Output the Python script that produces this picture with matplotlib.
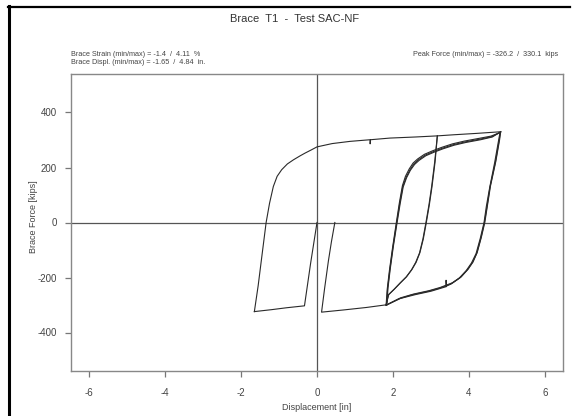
import matplotlib
matplotlib.use("Agg")
import matplotlib.pyplot as plt
from matplotlib.lines import Line2D

plt.rcParams['font.family'] = ['Liberation Sans', 'DejaVu Sans']
plt.rcParams['axes.unicode_minus'] = False

# Hysteresis record, branch by branch (displacement [in], force [kips])
# initial compression and buckling plateau
disp_1 = [0.0, -0.17, -0.33, -0.8, -1.2, -1.65]
force_1 = [0, -150, -303, -310, -317, -324]
# reversal into tension, first tension plateau (pauses at 1.4 and 3.17 in)
disp_2 = [-1.65, -1.55, -1.45, -1.34, -1.25, -1.15, -1.05, -0.93, -0.78, -0.62,
          -0.45, -0.32, -0.15, 0.0, 0.4, 0.87, 1.40, 1.40, 1.41, 1.92, 2.6, 3.17]
force_2 = [-324, -230, -120, 0, 70, 131, 168, 192, 213, 228,
           242, 252, 264, 275, 287, 295, 301, 286, 301, 307, 311, 315]
# unloading from 3.17 in down to compression
disp_3 = [3.17, 3.10, 3.02, 2.95, 2.87, 2.79, 2.70, 2.60, 2.49, 2.35, 2.19, 2.03, 1.88, 1.82]
force_3 = [315, 220, 131, 65, 0, -60, -111, -145, -172, -198, -220, -243, -263, -300]
# reloading back up the same path, then on to peak tension
disp_4 = [1.82, 1.89, 2.04, 2.20, 2.36, 2.50, 2.61, 2.71, 2.80, 2.88, 2.96, 3.03, 3.11, 3.17,
          3.6, 4.2, 4.84]
force_4 = [-300, -262, -242, -219, -197, -171, -145, -110, -60, 0, 65, 131, 220, 315,
           319, 324, 330]
# unloading from peak tension (three passes)
disp_5 = [4.84, 4.80, 4.70, 4.56, 4.48, 4.41, 4.32, 4.21, 4.10, 3.96, 3.78, 3.55,
          3.40, 3.40, 3.41, 3.0, 2.6, 2.2, 1.83]
force_5 = [330, 300, 220, 131, 60, 0, -55, -111, -145, -172, -200, -222,
           -232, -210, -233, -250, -262, -276, -300]
disp_6 = [4.82, 4.78, 4.68, 4.55, 4.46, 4.40, 4.30, 4.19, 4.07, 3.93, 3.74, 3.52,
          3.2, 2.9, 2.5, 2.15, 1.82]
force_6 = [327, 296, 218, 128, 58, 0, -58, -113, -147, -175, -203, -224,
           -240, -251, -263, -278, -301]
disp_7 = [4.83, 4.81, 4.71, 4.57, 4.49, 4.42, 4.33, 4.22, 4.11, 3.98, 3.80, 3.57,
          3.25, 2.95, 2.55, 2.2, 1.84]
force_7 = [328, 301, 222, 133, 62, 0, -53, -109, -143, -170, -197, -219,
           -236, -248, -260, -274, -299]
# reloading from compression to peak tension (three passes)
disp_8 = [1.83, 1.86, 1.92, 2.00, 2.10, 2.18, 2.26, 2.35, 2.45, 2.55, 2.67, 2.85,
          3.07, 3.30, 3.59, 3.90, 4.29, 4.60, 4.83]
force_8 = [-300, -240, -170, -90, 0, 70, 131, 165, 192, 213, 228, 245,
           258, 270, 283, 293, 303, 312, 328]
disp_9 = [1.82, 1.85, 1.91, 1.99, 2.09, 2.17, 2.25, 2.33, 2.43, 2.53, 2.65, 2.83,
          3.05, 3.28, 3.57, 3.88, 4.27, 4.58, 4.82]
force_9 = [-301, -242, -172, -92, 0, 72, 134, 168, 195, 216, 231, 248,
           261, 273, 286, 296, 306, 314, 327]
disp_10 = [1.84, 1.87, 1.93, 2.01, 2.11, 2.19, 2.27, 2.36, 2.46, 2.57, 2.69, 2.87,
           3.09, 3.32, 3.61, 3.92, 4.31, 4.62, 4.84]
force_10 = [-299, -238, -168, -88, 0, 68, 129, 163, 190, 211, 226, 243,
            256, 268, 281, 291, 301, 311, 330]
# final compression excursion and unloading to zero force
disp_11 = [1.84, 1.3, 0.7, 0.12, 0.20, 0.30, 0.38, 0.47]
force_11 = [-299, -309, -318, -326, -240, -140, -70, 0]

branches = [(disp_1, force_1), (disp_2, force_2), (disp_3, force_3), (disp_4, force_4),
            (disp_5, force_5), (disp_8, force_8), (disp_6, force_6), (disp_9, force_9),
            (disp_7, force_7), (disp_10, force_10), (disp_11, force_11)]

x_ticks = [-6, -4, -2, 0, 2, 4, 6]
y_ticks = [-400, -200, 0, 200, 400]

W, H = 573, 416
fig = plt.figure(figsize=(W / 100, H / 100), dpi=100)
fig.patch.set_facecolor('white')

ax = fig.add_axes([71 / W, (H - 371) / H, (563 - 71) / W, (371 - 74) / H])
for d, f in branches:
    ax.plot(d, f, color='#2a2a2a', linewidth=0.8)

ax.axhline(0, color='#555555', linewidth=0.9, zorder=0)
ax.axvline(0, color='#555555', linewidth=0.9, zorder=0)

ax.set_xlim(-6.48, 6.48)
ax.set_ylim(-540, 540)
ax.set_xticks(x_ticks)
ax.set_xticklabels([str(v) for v in x_ticks])
ax.set_yticks(y_ticks)
ax.set_yticklabels([str(v) for v in y_ticks])
ax.tick_params(axis='x', direction='out', length=4, width=0.9, colors='#777777',
               labelcolor='#444444', labelsize=7, pad=8)
ax.tick_params(axis='y', direction='out', length=4, width=0.9, colors='#777777',
               labelcolor='#444444', labelsize=7, pad=6)
for s in ax.spines.values():
    s.set_color('#888888')
    s.set_linewidth(1.0)

fig.text(317 / W, 1 - 407 / H, 'Displacement [in]', ha='center', va='center',
         fontsize=6.5, color='#444444')
fig.text(33 / W, 1 - 217 / H, 'Brace Force [kips]', ha='center', va='center',
         rotation=90, fontsize=6.5, color='#444444')

fig.text(295 / W, 1 - 19 / H, 'Brace  T1  -  Test SAC-NF', ha='center', va='center',
         fontsize=8, color='#333333')
fig.text(71 / W, 1 - 54 / H, 'Brace Strain (min/max) = -1.4  /  4.11  %', ha='left',
         va='center', fontsize=5.2, color='#444444')
fig.text(71 / W, 1 - 62 / H, 'Brace Displ. (min/max) = -1.65  /  4.84  in.', ha='left',
         va='center', fontsize=5.2, color='#444444')
fig.text(558 / W, 1 - 54 / H, 'Peak Force (min/max) = -326.2  /  330.1  kips', ha='right',
         va='center', fontsize=5.2, color='#444444')

# page frame on the left and top edges
fig.add_artist(Line2D([9 / W, 9 / W], [0, 1 - 6 / H], color='black', linewidth=2.2,
                      transform=fig.transFigure))
fig.add_artist(Line2D([8 / W, 570 / W], [1 - 6.5 / H, 1 - 6.5 / H], color='black',
                      linewidth=1.6, transform=fig.transFigure))

fig.savefig('out.png', dpi=100)
